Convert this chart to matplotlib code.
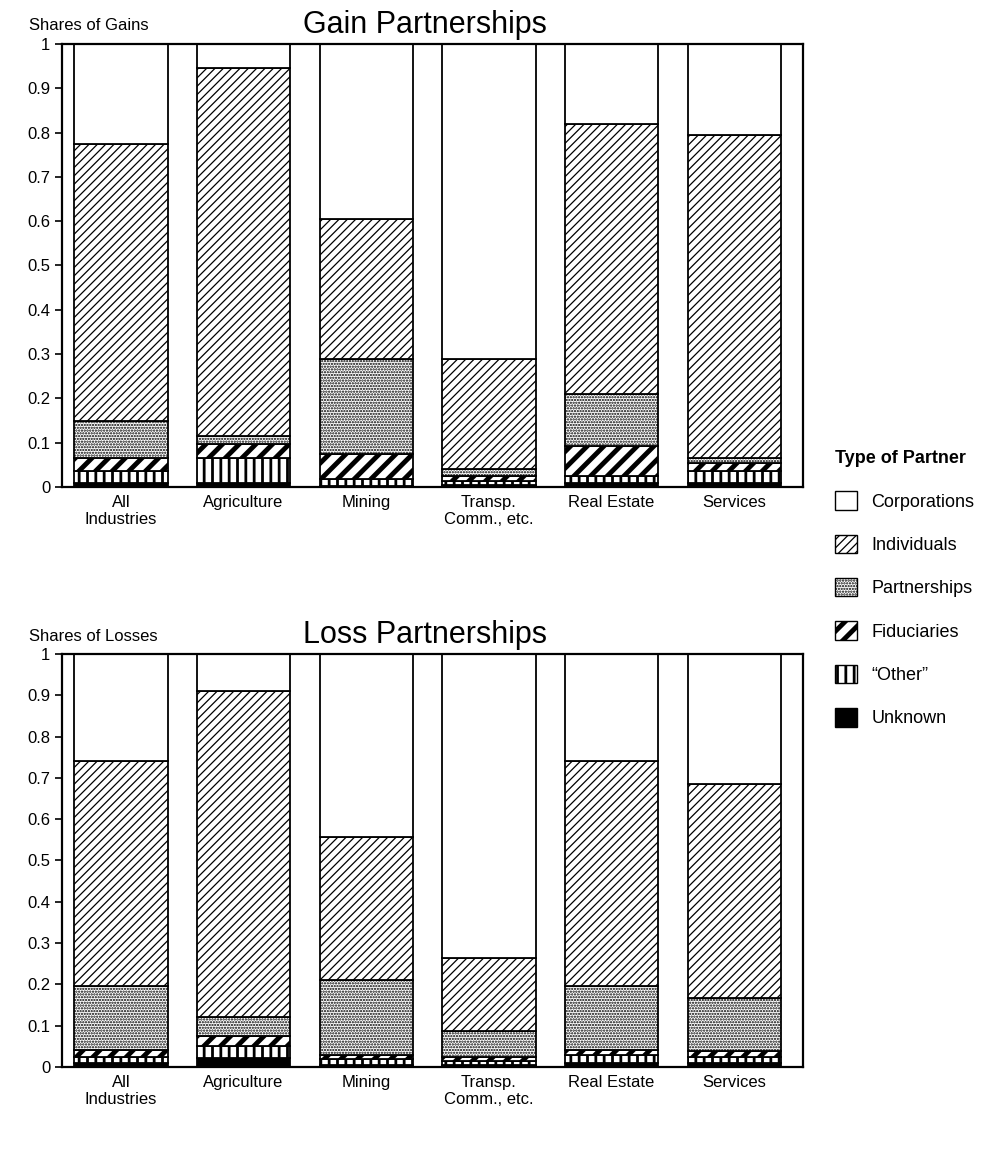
import numpy as np
import matplotlib.pyplot as plt
from matplotlib.patches import Patch

plt.rcParams['font.family'] = ['Liberation Sans', 'DejaVu Sans']

industrias = ['All\nIndustries', 'Agriculture', 'Mining', 'Transp.\nComm., etc.', 'Real Estate', 'Services']
tipos = ['Corporations', 'Individuals', 'Partnerships', 'Fiduciaries', '\u201cOther\u201d', 'Unknown']

# shares (bottom to top): Unknown, Other, Fiduciaries, Partnerships, Individuals, Corporations
ganho_unknown = [0.009, 0.009, 0.003, 0.004, 0.009, 0.008]
ganho_other = [0.027, 0.057, 0.015, 0.010, 0.016, 0.028]
ganho_fiduc = [0.030, 0.031, 0.057, 0.011, 0.068, 0.018]
ganho_partn = [0.084, 0.018, 0.215, 0.015, 0.117, 0.012]
ganho_indiv = [0.625, 0.830, 0.315, 0.250, 0.610, 0.729]
ganho_corp = [0.225, 0.055, 0.395, 0.710, 0.180, 0.205]

perda_unknown = [0.010, 0.022, 0.005, 0.005, 0.010, 0.010]
perda_other = [0.015, 0.028, 0.015, 0.010, 0.018, 0.015]
perda_fiduc = [0.015, 0.025, 0.010, 0.010, 0.014, 0.013]
perda_partn = [0.157, 0.045, 0.180, 0.063, 0.155, 0.128]
perda_indiv = [0.543, 0.790, 0.348, 0.177, 0.543, 0.519]
perda_corp = [0.260, 0.090, 0.442, 0.735, 0.260, 0.315]

estilos = [
    dict(facecolor='white', hatch=None, hlw=1.0),      # Corporations
    dict(facecolor='white', hatch='////', hlw=0.9),    # Individuals
    dict(facecolor='white', hatch='......', hlw=1.1),  # Partnerships
    dict(facecolor='white', hatch='//', hlw=3.5),      # Fiduciaries
    dict(facecolor='white', hatch='||', hlw=2.0),      # Other
    dict(facecolor='black', hatch=None, hlw=1.0),      # Unknown
]

fig = plt.figure(figsize=(10.05, 11.76), dpi=100)
ax1 = fig.add_axes([0.0617, 0.5859, 0.7373, 0.3767])
ax2 = fig.add_axes([0.0617, 0.0927, 0.7373, 0.3512])

x = np.arange(len(industrias))
largura = 0.76


def desenhar(ax, series, titulo, ylabel):
    base = np.zeros(len(industrias))
    # series from bottom to top
    for k, vals in enumerate(series):
        est = estilos[len(series) - 1 - k]
        with plt.rc_context({'hatch.linewidth': est['hlw']}):
            barras = ax.bar(x, vals, largura, bottom=base, facecolor=est['facecolor'],
                            edgecolor='black', linewidth=1.3, hatch=est['hatch'])
            for b in barras:
                if hasattr(b, 'set_hatch_linewidth'):
                    b.set_hatch_linewidth(est['hlw'])
        base = base + np.array(vals)
    ax.set_xlim(-0.48, 5.56)
    ax.set_ylim(0, 1)
    ax.set_yticks(np.arange(0, 1.01, 0.1))
    ax.set_yticklabels(['0', '0.1', '0.2', '0.3', '0.4', '0.5', '0.6', '0.7', '0.8', '0.9', '1'], fontsize=12)
    ax.set_xticks(x)
    ax.set_xticklabels(industrias, fontsize=12, linespacing=1.15)
    ax.tick_params(axis='x', length=0, pad=6)
    ax.tick_params(axis='y', direction='out', length=5, width=1.2)
    for s in ax.spines.values():
        s.set_linewidth(1.6)
    ax.set_title(titulo, fontsize=22, pad=8, x=0.49)
    ax.text(-0.045, 1.042, ylabel, transform=ax.transAxes, fontsize=12, ha='left', va='center')


desenhar(ax1, [ganho_unknown, ganho_other, ganho_fiduc, ganho_partn, ganho_indiv, ganho_corp],
         'Gain Partnerships', 'Shares of Gains')
desenhar(ax2, [perda_unknown, perda_other, perda_fiduc, perda_partn, perda_indiv, perda_corp],
         'Loss Partnerships', 'Shares of Losses')

handles = [Patch(facecolor=est['facecolor'], edgecolor='black', linewidth=1.0, hatch=est['hatch'])
           for est in estilos]

leg = fig.legend(handles, tipos, loc='upper left', bbox_to_anchor=(0.815, 1 - 434 / 1176),
                 frameon=False, title='Type of Partner', alignment='left',
                 title_fontproperties={'weight': 'bold', 'size': 13}, fontsize=13,
                 labelspacing=1.33, handlelength=1.2, handleheight=1.2, handletextpad=0.8)

# legend handles are copies, so give them the hatch widths again
for h, est in zip(leg.legend_handles, estilos):
    if hasattr(h, 'set_hatch_linewidth'):
        h.set_hatch_linewidth(est['hlw'])

plt.savefig('out.png', dpi=100)
